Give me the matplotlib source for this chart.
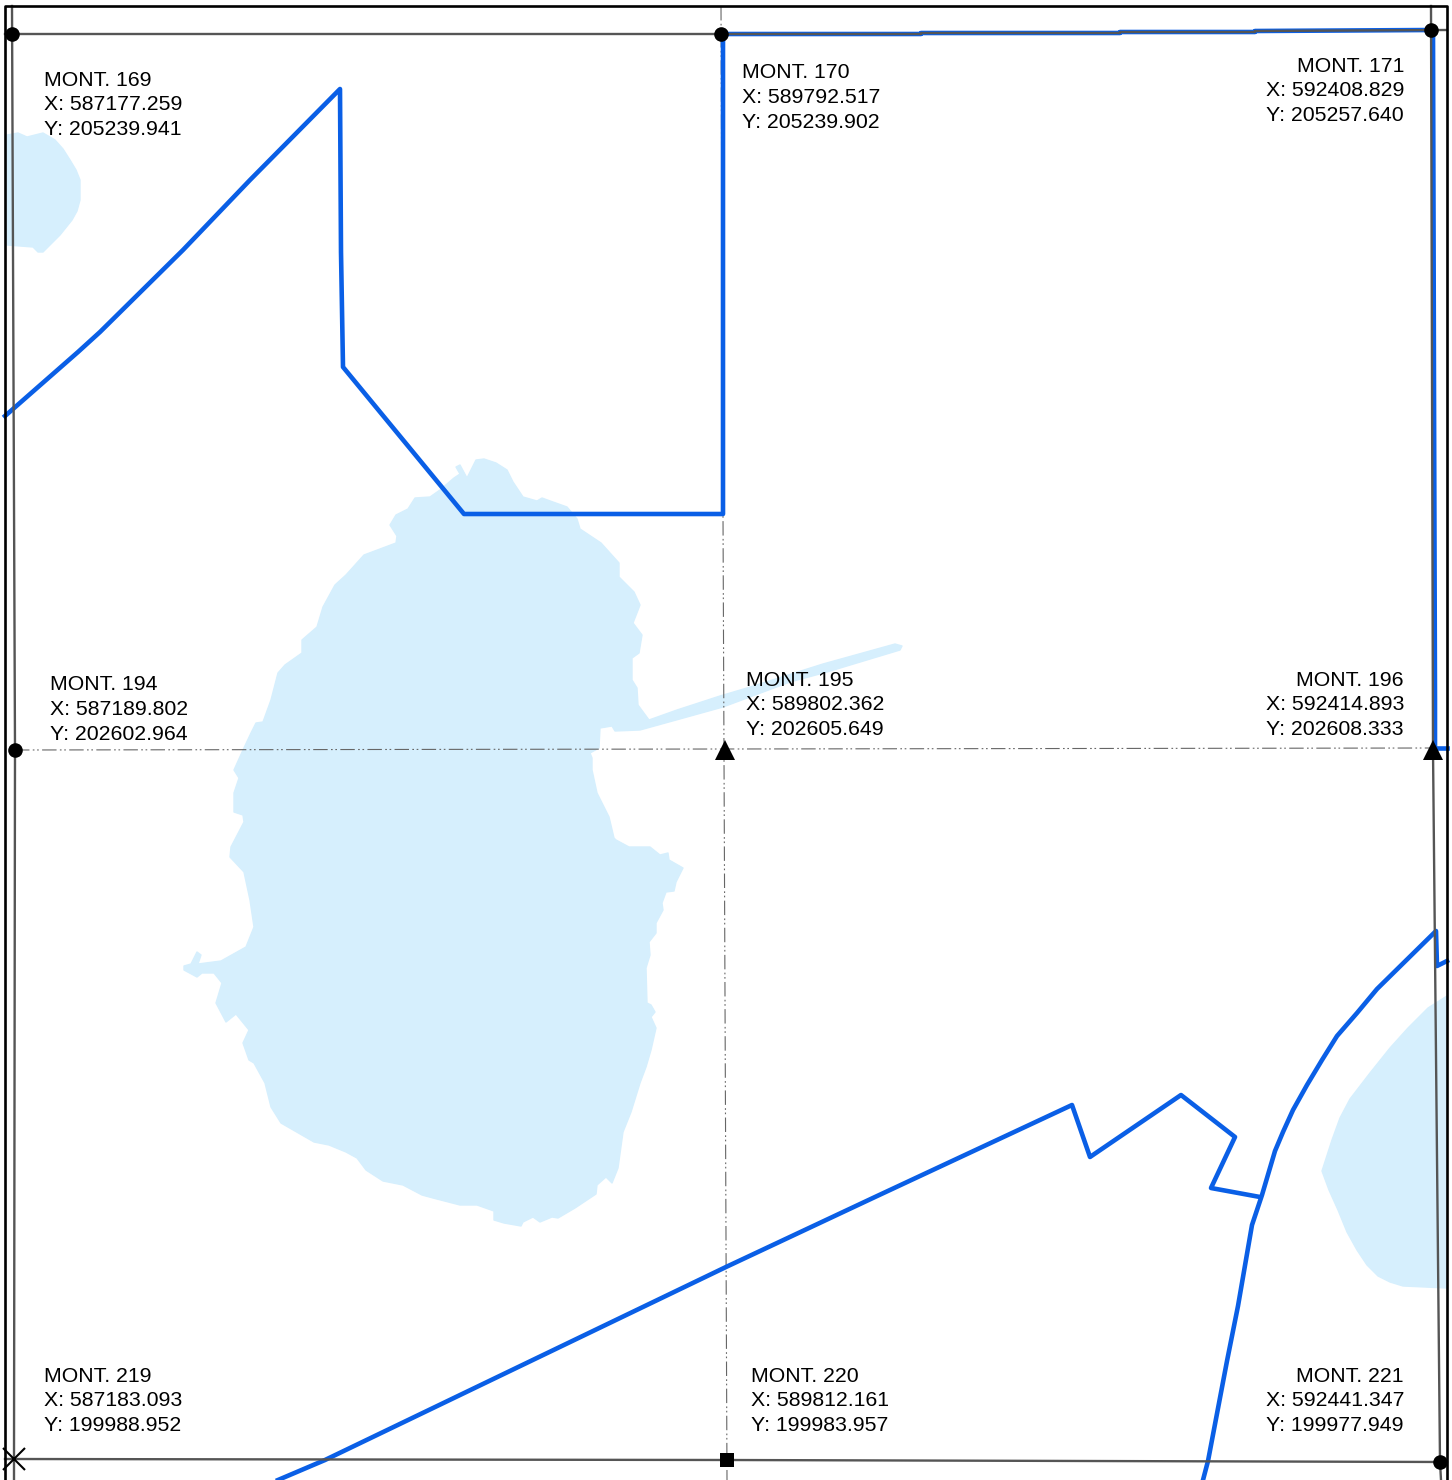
"""Survey sheet with monument coordinates, drawn in the sheet's own pixel frame."""
import matplotlib
matplotlib.use("Agg")
import matplotlib.pyplot as plt

WATER = "#d6effd"
BOUNDARY = "#0a5fe6"
GRID = "#555555"
DASHDOT = (0, (13, 3, 1.5, 2.4, 1.5, 3))

# water bodies, outline as (x, y)
lake_x = [476, 484, 496, 507, 513, 523, 537, 542, 553, 567, 577, 580, 601, 619, 619, 634, 640, 633, 642, 639,
          632, 632, 637, 638, 649, 677, 720, 747, 823, 895, 902, 900, 827, 790, 723, 687, 640, 615, 612, 600, 599, 590,
          592, 592, 597, 609, 614, 616, 629, 650, 660, 668, 669, 683, 676, 674, 666, 662, 663, 656, 656, 649,
          650, 646, 647, 651, 655, 651, 656, 651, 646, 640, 631, 623, 618, 612, 606, 597, 596, 575, 558, 552,
          540, 533, 523, 521, 504, 494, 494, 477, 460, 433, 422, 403, 383, 366, 357, 346, 329, 314, 281, 271,
          265, 254, 249, 243, 249, 236, 226, 216, 222, 214, 202, 197, 184, 184, 191, 197, 201, 198, 221, 246,
          254, 250, 244, 230, 231, 244, 243, 234, 234, 239, 234, 243, 251, 256, 263, 271, 278, 285, 302, 302,
          317, 323, 335, 346, 364, 396, 397, 390, 396, 408, 415, 430, 440, 454, 460, 456, 460, 467, 476]
lake_y = [460, 459, 463, 470, 482, 497, 501, 498, 502, 507, 519, 529, 543, 563, 577, 592, 605, 623, 635, 653,
          658, 680, 688, 705, 720, 710, 696, 688, 664, 644, 646, 650, 672, 682, 707, 717, 730, 731, 726, 728, 748, 753,
          758, 770, 793, 817, 838, 840, 847, 847, 855, 853, 860, 868, 882, 891, 892, 903, 910, 923, 933, 942,
          955, 968, 1003, 1005, 1012, 1017, 1028, 1050, 1067, 1083, 1112, 1132, 1168, 1183, 1177, 1185, 1194, 1208, 1218, 1217,
          1222, 1217, 1222, 1226, 1223, 1220, 1211, 1205, 1205, 1198, 1195, 1185, 1181, 1170, 1158, 1152, 1145, 1142, 1123, 1107,
          1083, 1063, 1060, 1043, 1030, 1014, 1022, 1003, 983, 973, 973, 977, 970, 966, 964, 952, 955, 964, 961, 947,
          927, 900, 872, 857, 847, 822, 815, 812, 793, 778, 770, 750, 733, 723, 722, 700, 673, 665, 653, 640,
          627, 607, 585, 575, 555, 543, 536, 525, 515, 509, 498, 497, 490, 478, 474, 467, 465, 478, 460]
pond_west_x = [7, 18, 27, 43, 55, 63, 70, 76, 80, 80, 77, 72, 60, 52, 43, 38, 33, 7]
pond_west_y = [135, 133, 137, 133, 140, 149, 160, 170, 180, 200, 211, 220, 235, 243, 252, 252, 247, 245]
pond_east_x = [1447, 1428, 1408, 1390, 1370, 1350, 1340, 1332, 1322, 1329, 1338, 1347, 1357, 1367, 1378, 1390, 1403, 1447]
pond_east_y = [996, 1008, 1028, 1048, 1073, 1099, 1118, 1140, 1171, 1190, 1210, 1232, 1250, 1265, 1276, 1282, 1286, 1288]

# parcel boundaries
north_x = [5, 78, 100, 183, 250, 340, 341, 343, 464, 723, 723, 921, 921, 1120, 1120, 1255, 1255, 1433, 1434, 1435, 1435]
north_y = [416, 352, 332, 250, 180, 89, 252, 367, 514, 514, 34, 34, 33, 33, 32, 32, 31, 30, 390, 700, 750]
south_x = [278, 325, 726, 875, 1072, 1090, 1181, 1235, 1211, 1260]
south_y = [1480, 1460, 1267, 1197, 1105, 1157, 1095, 1137, 1188, 1197]
east_x = [1203, 1208, 1227, 1238, 1252, 1262, 1275, 1283, 1293, 1307, 1322, 1337, 1357, 1377, 1436, 1437, 1447]
east_y = [1480, 1461, 1361, 1306, 1225, 1195, 1151, 1132, 1110, 1085, 1060, 1036, 1013, 989, 931, 966, 961]
edge_stub_x = [1434, 1447]
edge_stub_y = [748, 748]

# sheet frame and section lines
frame_x = [5, 5, 1447, 1447]
frame_y = [1480, 6, 6, 1480]
sec_top_x = [5, 721, 921, 921, 1120, 1120, 1255, 1255, 1447]
sec_top_y = [34, 34, 34, 33, 33, 32, 32, 31, 30]
sec_bot_x = [5, 727, 1447]
sec_bot_y = [1459, 1460, 1462]
sec_left_x = [12, 15, 14, 14]
sec_left_y = [6, 750, 1460, 1480]
sec_right_x = [1431, 1433, 1440, 1441]
sec_right_y = [6, 750, 1462, 1480]
mid_h_x = [15, 1433]
mid_h_y = [750, 748]
mid_v_x = [721, 723, 727]
mid_v_y = [6, 514, 1480]

# monuments
circle_x = [12, 721, 1431, 15, 1440]
circle_y = [34, 34, 30, 750, 1462]
triangle_x = [725, 1433]
triangle_y = [750, 750]
square_x = [727]
square_y = [1460]
cross_x = [14]
cross_y = [1459]

mont_ids = [169, 170, 171, 194, 195, 196, 219, 220, 221]
mont_e = ["587177.259", "589792.517", "592408.829", "587189.802", "589802.362", "592414.893",
          "587183.093", "589812.161", "592441.347"]
mont_n = ["205239.941", "205239.902", "205257.640", "202602.964", "202605.649", "202608.333",
          "199988.952", "199983.957", "199977.949"]
label_x = [44, 742, 1404, 50, 746, 1404, 44, 751, 1404]
label_y = [80, 73, 66, 685, 680, 680, 1376, 1376, 1376]
label_ha = ["left", "left", "right", "left", "left", "right", "left", "left", "right"]

fig = plt.figure(figsize=(14.52, 14.80), dpi=100)
ax = fig.add_axes([0, 0, 1, 1])
ax.set_xlim(0, 1452)
ax.set_ylim(1480, 0)
ax.axis("off")

for xs, ys in [(lake_x, lake_y), (pond_west_x, pond_west_y), (pond_east_x, pond_east_y)]:
    ax.fill(xs, ys, facecolor=WATER, edgecolor=WATER, lw=1, joinstyle="round", zorder=1)

ax.plot(mid_h_x, mid_h_y, color="#666666", lw=0.8, ls=DASHDOT, zorder=2)
ax.plot(mid_v_x, mid_v_y, color="#666666", lw=0.8, ls=DASHDOT, zorder=2)

for xs, ys in [(north_x, north_y), (south_x, south_y), (east_x, east_y), (edge_stub_x, edge_stub_y)]:
    ax.plot(xs, ys, color=BOUNDARY, lw=3.3, solid_joinstyle="round", zorder=3)

# section lines sit over the boundaries where the two coincide
for xs, ys in [(sec_top_x, sec_top_y), (sec_bot_x, sec_bot_y), (sec_left_x, sec_left_y), (sec_right_x, sec_right_y)]:
    ax.plot(xs, ys, color=GRID, lw=1.7, zorder=4)

ax.plot(frame_x, frame_y, color="black", lw=1.9, zorder=5)

ax.plot(circle_x, circle_y, "o", color="black", ms=10.5, mew=0, zorder=6)
ax.plot(triangle_x, triangle_y, "^", color="black", ms=14.5, mew=0, zorder=6)
ax.plot(square_x, square_y, "s", color="black", ms=10.5, mew=0, zorder=6)
ax.plot(cross_x, cross_y, "x", color="black", ms=16, mew=1.5, zorder=6)

for i, mid in enumerate(mont_ids):
    lines = [f"MONT. {mid}", f"X: {mont_e[i]}", f"Y: {mont_n[i]}"]
    for k, line in enumerate(lines):
        ax.text(label_x[i], label_y[i] + 24.6 * k, line, ha=label_ha[i], va="center",
                family="Liberation Sans", fontsize=15.3, color="black", zorder=7)

fig.savefig("out.png", dpi=100)
